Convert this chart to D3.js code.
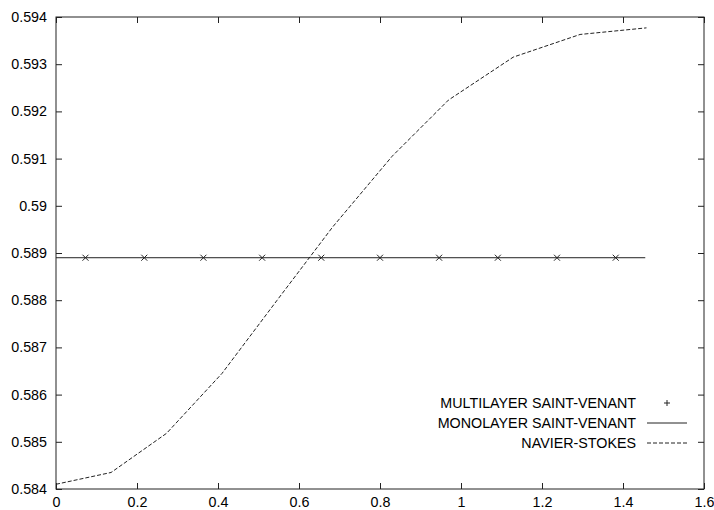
<!DOCTYPE html>
<html>
<head>
<meta charset="utf-8">
<script src="https://cdn.jsdelivr.net/npm/d3@7"></script>
<style>
  html, body { margin: 0; padding: 0; background: #fff; }
  svg text { font-family: "Liberation Sans", Arial, sans-serif; font-size: 14.3px; fill: #000; }
</style>
</head>
<body>
<svg id="chart" width="714" height="510"></svg>
<script>
// ---- data ----
const xTicks = [0, 0.2, 0.4, 0.6, 0.8, 1, 1.2, 1.4, 1.6];
const xTickLabels = ["0", "0.2", "0.4", "0.6", "0.8", "1", "1.2", "1.4", "1.6"];
const yTicks = [0.584, 0.585, 0.586, 0.587, 0.588, 0.589, 0.59, 0.591, 0.592, 0.593, 0.594];
const yTickLabels = ["0.584", "0.585", "0.586", "0.587", "0.588", "0.589", "0.59", "0.591", "0.592", "0.593", "0.594"];

const multiX = [0.0728, 0.218, 0.364, 0.509, 0.655, 0.800, 0.946, 1.091, 1.237, 1.382];
const multiY = [0.5889, 0.5889, 0.5889, 0.5889, 0.5889, 0.5889, 0.5889, 0.5889, 0.5889, 0.5889];

const monoX = [0, 1.455];
const monoY = [0.5889, 0.5889];

const nsX = [0, 0.136, 0.273, 0.41, 0.546, 0.683, 0.83, 0.969, 1.129, 1.294, 1.458];
const nsY = [0.58410, 0.58435, 0.58518, 0.58645, 0.58800, 0.58955, 0.59105, 0.59224, 0.59315, 0.59363, 0.59377];

const seriesNames = ["MULTILAYER SAINT-VENANT", "MONOLAYER SAINT-VENANT", "NAVIER-STOKES"];

// ---- layout ----
const svg = d3.select("#chart");
const mLeft = 56, mRight = 704, mTop = 17, mBottom = 489;
const x = d3.scaleLinear().domain([0, 1.6]).range([mLeft, mRight]);
const y = d3.scaleLinear().domain([0.584, 0.594]).range([mBottom, mTop]);
const axisColor = "#222";

// axes (ticks inward on all sides)
const gB = svg.append("g").attr("transform", `translate(0,${mBottom})`)
  .call(d3.axisBottom(x).tickValues(xTicks).tickFormat((d, i) => xTickLabels[i]).tickSize(-6).tickPadding(8));
const gT = svg.append("g").attr("transform", `translate(0,${mTop})`)
  .call(d3.axisTop(x).tickValues(xTicks).tickFormat("").tickSize(-6));
const gL = svg.append("g").attr("transform", `translate(${mLeft},0)`)
  .call(d3.axisLeft(y).tickValues(yTicks).tickFormat((d, i) => yTickLabels[i]).tickSize(-6).tickPadding(9));
const gR = svg.append("g").attr("transform", `translate(${mRight},0)`)
  .call(d3.axisRight(y).tickValues(yTicks).tickFormat("").tickSize(-6));

[gB, gT, gL, gR].forEach(g => {
  g.select(".domain").remove();
  g.selectAll(".tick line").attr("stroke", axisColor);
  g.selectAll("text").attr("fill", "#000");
  g.attr("font-family", null).attr("font-size", null);
});

// border
svg.append("rect")
  .attr("x", mLeft).attr("y", mTop)
  .attr("width", mRight - mLeft).attr("height", mBottom - mTop)
  .attr("fill", "none").attr("stroke", axisColor).attr("stroke-width", 1);

const line = d3.line().x(d => x(d[0])).y(d => y(d[1]));

// monolayer (solid)
svg.append("path")
  .datum(monoX.map((v, i) => [v, monoY[i]]))
  .attr("d", line).attr("fill", "none").attr("stroke", "#222").attr("stroke-width", 1);

// navier-stokes (dashed)
svg.append("path")
  .datum(nsX.map((v, i) => [v, nsY[i]]))
  .attr("d", line).attr("fill", "none").attr("stroke", "#222").attr("stroke-width", 1)
  .attr("stroke-dasharray", "4,2");

// multilayer markers (x)
const m = 3;
svg.append("g").selectAll("path")
  .data(multiX.map((v, i) => [v, multiY[i]]))
  .join("path")
  .attr("d", d => {
    const cx = x(d[0]), cy = y(d[1]);
    return `M${cx - m},${cy - m}L${cx + m},${cy + m}M${cx - m},${cy + m}L${cx + m},${cy - m}`;
  })
  .attr("stroke", "#222").attr("stroke-width", 1).attr("fill", "none");

// legend
const legTextX = 636, legRows = [403, 423, 443];
const sx0 = 647, sx1 = 687;
seriesNames.forEach((name, i) => {
  svg.append("text")
    .attr("x", legTextX).attr("y", legRows[i]).attr("dy", "0.35em")
    .attr("text-anchor", "end").text(name);
});
const pcx = (sx0 + sx1) / 2, pcy = legRows[0];
svg.append("path")
  .attr("d", `M${pcx - 3},${pcy}L${pcx + 3},${pcy}M${pcx},${pcy - 3}L${pcx},${pcy + 3}`)
  .attr("stroke", "#222").attr("stroke-width", 1);
svg.append("line").attr("x1", sx0).attr("x2", sx1).attr("y1", legRows[1]).attr("y2", legRows[1])
  .attr("stroke", "#222").attr("stroke-width", 1);
svg.append("line").attr("x1", sx0).attr("x2", sx1).attr("y1", legRows[2]).attr("y2", legRows[2])
  .attr("stroke", "#222").attr("stroke-width", 1).attr("stroke-dasharray", "4,2");
</script>
</body>
</html>
